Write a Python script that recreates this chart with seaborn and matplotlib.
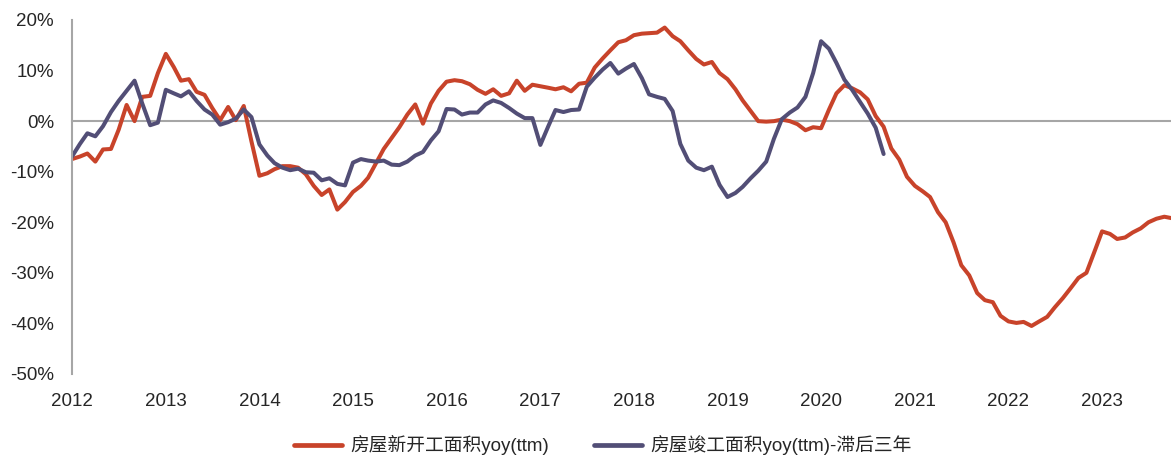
import pandas as pd
import matplotlib.pyplot as plt
import seaborn as sns

# monthly values, %
start_yoy = [
    -7.5, -7.0, -6.4, -8.0, -5.6, -5.5, -1.7, 3.2, 0.0, 4.8, 5.0, 9.5,
    13.3, 10.7, 8.0, 8.3, 5.8, 5.2, 2.6, 0.2, 2.8, 0.2, 3.0, -4.0,
    -10.8, -10.3, -9.5, -8.9, -8.9, -9.2, -10.5, -12.8, -14.6, -13.5, -17.5, -16.0,
    -14.0, -12.8, -11.2, -8.3, -5.5, -3.3, -1.2, 1.3, 3.3, -0.5, 3.5, 6.0,
    7.8, 8.1, 7.9, 7.3, 6.2, 5.4, 6.3, 5.0, 5.5, 8.0, 6.0, 7.2,
    6.9, 6.6, 6.3, 6.7, 5.9, 7.4, 7.6, 10.6, 12.4, 14.0, 15.6, 16.0,
    17.0, 17.3, 17.4, 17.5, 18.5, 16.8, 15.8, 14.0, 12.3, 11.2, 11.7, 9.5,
    8.3, 6.3, 4.1, 2.0, 0.0, -0.1, 0.0, 0.3, 0.0, -0.6, -1.8, -1.2,
    -1.4, 2.3, 5.5, 7.1, 6.5, 5.7, 4.3, 1.0, -1.1, -5.4, -7.6, -11.0,
    -12.8, -13.9, -15.0, -18.0, -20.0, -24.0, -28.5, -30.5, -34.0, -35.4, -35.8, -38.5,
    -39.6, -39.9, -39.7, -40.5, -39.6, -38.7, -36.8, -35.0, -33.0, -31.0, -30.0, -26.0,
    -21.8, -22.3, -23.3, -23.0, -22.0, -21.2, -20.0, -19.3, -18.9, -19.2,
]
finish_yoy_lag3 = [
    -7.0, -4.5, -2.4, -3.0, -1.0, 1.8, 4.0, 6.0, 8.0, 3.5, -0.8, -0.3,
    6.2, 5.5, 4.9, 5.9, 4.0, 2.3, 1.3, -0.7, -0.2, 0.5, 2.3, 0.8,
    -4.6, -6.8, -8.3, -9.2, -9.7, -9.4, -10.1, -10.2, -11.7, -11.3, -12.4, -12.7,
    -8.2, -7.5, -7.8, -8.0, -7.8, -8.6, -8.7, -8.0, -6.8, -6.1, -3.8, -2.0,
    2.4, 2.3, 1.3, 1.7, 1.7, 3.3, 4.1, 3.6, 2.6, 1.5, 0.6, 0.6,
    -4.7, -1.0, 2.2, 1.8, 2.2, 2.3, 6.8, 8.6, 10.2, 11.5, 9.4, 10.4,
    11.3, 8.5, 5.3, 4.8, 4.4, 2.0, -4.5, -7.8, -9.2, -9.7, -9.0, -12.6,
    -15.0, -14.2, -13.0, -11.3, -9.8, -8.0, -3.5, 0.4, 1.7, 2.7, 4.8, 9.5,
    15.8, 14.3, 11.5, 8.2, 6.2, 3.8, 1.5, -1.3, -6.5,
]
label_start = "房屋新开工面积yoy(ttm)"
label_finish = "房屋竣工面积yoy(ttm)-滞后三年"
years = list(range(2012, 2024))

start_dates = pd.date_range("2012-01-01", periods=len(start_yoy), freq="MS")
finish_dates = pd.date_range("2012-01-01", periods=len(finish_yoy_lag3), freq="MS")
df = pd.concat([
    pd.DataFrame({"date": start_dates, "yoy": start_yoy, "series": label_start}),
    pd.DataFrame({"date": finish_dates, "yoy": finish_yoy_lag3, "series": label_finish}),
])

sns.set_style("white")
plt.rcParams["font.family"] = ["Liberation Sans", "Noto Sans CJK SC"]

red = "#C8432A"
purple = "#524E76"
grey = "#A6A6A6"
fs = 13.5

fig = plt.figure(figsize=(11.71, 4.59), dpi=100)
ax = fig.add_axes([72 / 1171, 1 - 374 / 459, 1 - 72 / 1171, (374 - 20) / 459])

sns.lineplot(data=df, x="date", y="yoy", hue="series",
             palette={label_start: red, label_finish: purple},
             linewidth=2.9, ax=ax, legend=False)
for line in ax.get_lines():
    line.set_solid_joinstyle("round")
    line.set_solid_capstyle("round")

ax.set_xlim(pd.Timestamp("2012-01-01"), pd.Timestamp("2023-09-27"))
ax.set_ylim(-50, 20)
ax.set_yticks(range(-50, 21, 10))
ax.set_yticklabels([f"{v}%" for v in range(-50, 21, 10)], fontsize=fs)
ax.set_xlabel("")
ax.set_ylabel("")

for s in ["top", "right"]:
    ax.spines[s].set_visible(False)
ax.spines["left"].set_color(grey)
ax.spines["left"].set_linewidth(1.5)
ax.spines["bottom"].set_position(("data", 0))
ax.spines["bottom"].set_color(grey)
ax.spines["bottom"].set_linewidth(1.5)
ax.spines["bottom"].set_zorder(0)

ticks = [pd.Timestamp(f"{y}-01-01") for y in years]
ax.set_xticks(ticks)
ax.tick_params(axis="x", direction="in", length=5, width=1.2, color=grey, labelbottom=False)
ax.tick_params(axis="y", direction="out", length=5, width=1.2, color=grey, pad=8)

# year labels below the plot
sec = ax.secondary_xaxis("bottom")
sec.set_xticks(ticks)
sec.set_xticklabels([str(y) for y in years], fontsize=fs)
sec.tick_params(length=0, pad=14)
sec.spines["bottom"].set_visible(False)

handles = [plt.Line2D([], [], color=red, linewidth=3.4),
           plt.Line2D([], [], color=purple, linewidth=3.4)]
fig.legend(handles, [label_start, label_finish], loc="center",
           bbox_to_anchor=(0.5145, 0.03), ncol=2, frameon=False,
           fontsize=fs, handlelength=2.6, columnspacing=2.4, handletextpad=0.4)

fig.savefig("out.png", dpi=100)
